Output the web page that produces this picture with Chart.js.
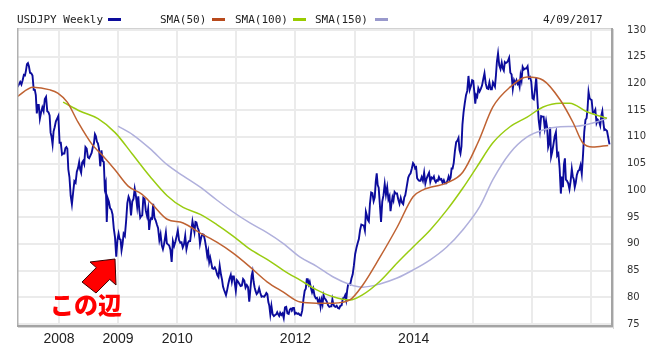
<!DOCTYPE html>
<html><head><meta charset="utf-8">
<script src="https://cdn.jsdelivr.net/npm/chart.js@4.4.1/dist/chart.umd.min.js"></script>
<style>
html,body{margin:0;padding:0;background:#fff;}
#wrap{position:relative;width:655px;height:354px;overflow:hidden;background:#fff;}
canvas{position:absolute;left:0;top:0;}
.lg{position:absolute;top:14px;font:11px/11px "DejaVu Sans Mono",monospace;color:#222;white-space:pre;}
.mk{position:absolute;top:18px;width:13px;height:3px;}
#note{position:absolute;left:50px;top:292px;font-family:"Noto Sans CJK JP";font-weight:900;font-size:24px;line-height:24px;color:#ff0000;white-space:nowrap;}
svg{position:absolute;left:0;top:0;}
</style></head><body>
<div id="wrap">
<canvas id="c" width="655" height="354"></canvas>
<div class="lg" style="left:17px">USDJPY Weekly</div>
<div class="mk" style="left:108px;background:#0c0c9c"></div>
<div class="lg" style="left:160px">SMA(50)</div>
<div class="mk" style="left:212px;background:#b84a1c"></div>
<div class="lg" style="left:235px">SMA(100)</div>
<div class="mk" style="left:293px;background:#99cc00"></div>
<div class="lg" style="left:315px">SMA(150)</div>
<div class="mk" style="left:375px;background:#9999cc"></div>
<div class="lg" style="left:543px">4/09/2017</div>
<svg width="655" height="354"><polygon points="115,259 90,262 96.3,267.6 82,282 96,293 109.7,279.4 116,285" fill="#ff0000" stroke="#3a0000" stroke-width="1"/></svg>
<div id="note">この辺</div>
</div>
<script>
// Weekly closes, one inner list per month, starting April 2007
const priceStart = {year: 2007, month: 4};
const priceWeekly = [
  [118.9, 119.6],
  [120.3, 119.8, 120.6, 121.6],
  [121.5, 122.4, 123.6, 123.8, 123.2],
  [122.0, 121.9, 121.5, 118.8],
  [118.8, 117.8, 114.4, 116.0, 116.0],
  [113.4, 114.6, 115.5, 114.8],
  [117.1, 117.5, 114.8, 114.6],
  [114.0, 110.8, 110.0, 108.6, 111.0],
  [111.8, 112.9, 113.4, 113.9],
  [108.9, 108.9, 106.7, 106.9],
  [106.9, 107.9, 108.1, 107.8, 103.9],
  [102.5, 99.0, 97.4, 99.6],
  [101.7, 101.4, 103.5, 104.2],
  [105.3, 103.9, 103.3, 105.2, 105.5],
  [104.9, 108.1, 107.8, 106.2],
  [106.0, 106.5, 107.0, 108.1],
  [108.8, 110.5, 110.1, 109.1, 108.8],
  [107.8, 104.5, 107.5, 105.5],
  [105.3, 100.5, 101.3, 94.1, 98.5],
  [97.9, 96.7, 96.4, 95.5],
  [92.9, 91.2, 87.6, 90.8],
  [91.9, 90.9, 90.8, 88.8, 89.9],
  [91.9, 91.5, 94.2, 97.6],
  [98.8, 98.2, 95.3, 97.9],
  [98.4, 100.3, 98.9, 96.9],
  [98.9, 96.4, 94.9, 95.2, 95.3],
  [98.6, 98.4, 96.2, 95.2],
  [96.5, 92.6, 94.2, 94.8, 94.7],
  [97.5, 94.9, 94.4, 93.6],
  [92.9, 90.7, 91.8, 89.7],
  [89.0, 89.8, 90.9, 92.1, 90.1],
  [89.9, 89.7, 88.9, 86.6],
  [90.5, 89.6, 90.4, 91.4],
  [92.5, 90.7, 90.2, 90.3],
  [89.3, 89.9, 91.5, 89.0],
  [90.1, 90.5, 90.5, 92.5],
  [94.2, 93.2, 92.2, 94.1, 94.0],
  [93.1, 92.5, 90.0, 91.2],
  [91.8, 91.7, 90.7, 89.3],
  [87.7, 88.6, 86.6, 87.4, 86.5],
  [85.4, 85.3, 85.6, 85.1],
  [84.2, 83.8, 85.9, 84.3],
  [83.3, 82.0, 81.4, 81.4, 80.4],
  [81.3, 82.5, 83.5, 84.2],
  [82.9, 83.9, 83.9, 82.6, 81.2],
  [83.2, 82.9, 82.5, 82.1],
  [82.2, 83.4, 83.1, 81.8],
  [82.3, 81.9, 79.2, 81.7],
  [84.0, 84.8, 83.0, 81.9, 81.2],
  [80.6, 80.9, 81.7, 80.8],
  [80.1, 80.2, 80.1, 80.4],
  [80.8, 80.6, 79.1, 78.4, 76.8],
  [78.4, 76.8, 76.5, 76.7],
  [76.8, 77.2, 76.8, 76.5, 77.1],
  [76.7, 77.0, 76.1, 78.1],
  [78.2, 77.0, 76.9, 77.7],
  [77.9, 77.7, 78.0, 78.0, 76.9],
  [77.1, 76.9, 77.0, 76.7],
  [76.6, 77.5, 79.6, 81.2],
  [81.6, 83.4, 83.4, 82.4, 82.9],
  [81.8, 80.9, 81.6, 80.3],
  [79.8, 79.9, 79.0, 79.6],
  [78.2, 79.5, 78.7, 80.4, 79.8],
  [79.6, 79.2, 78.5, 78.2],
  [78.3, 78.3, 79.6, 78.7, 78.3],
  [78.2, 78.4, 78.0, 77.9],
  [78.4, 78.5, 79.8, 79.9],
  [80.4, 79.5, 81.3, 82.4, 82.5],
  [82.4, 83.5, 84.3, 86.0],
  [88.1, 89.2, 90.1, 90.9],
  [92.6, 93.6, 93.5, 93.4],
  [92.5, 96.0, 95.3, 94.5, 94.2],
  [97.5, 99.6, 99.5, 98.0],
  [98.7, 101.6, 103.2, 101.0, 100.5],
  [97.5, 94.1, 97.9, 99.1],
  [101.2, 99.2, 100.6, 98.3],
  [98.9, 96.1, 97.5, 98.7, 98.1],
  [99.7, 99.4, 99.4, 98.3],
  [97.5, 98.6, 97.7, 97.4],
  [98.7, 99.1, 100.2, 101.3, 102.4],
  [102.9, 103.2, 104.1, 105.1],
  [104.8, 104.1, 104.3, 102.3, 102.0],
  [101.8, 101.8, 102.5, 101.8],
  [103.3, 101.3, 102.2, 102.8],
  [103.3, 101.6, 102.4, 102.2],
  [102.6, 101.8, 101.5, 101.9, 101.8],
  [102.5, 102.0, 102.1, 101.4],
  [101.9, 101.3, 101.3, 101.8],
  [102.6, 102.0, 102.4, 104.1, 104.1],
  [105.1, 107.4, 109.0, 109.3],
  [109.8, 107.6, 106.9, 108.2, 112.3],
  [114.6, 116.3, 117.8, 118.6],
  [121.4, 118.8, 119.5, 120.6],
  [120.5, 118.5, 116.2, 117.8, 117.5],
  [119.1, 118.5, 119.0, 119.6],
  [120.8, 121.9, 120.0, 119.1],
  [119.0, 120.2, 118.9, 118.9],
  [120.2, 119.8, 119.4, 121.5, 124.1],
  [125.6, 123.4, 122.7, 123.9],
  [122.8, 122.4, 124.0, 123.8, 123.9],
  [124.2, 124.8, 122.0, 121.7],
  [119.0, 120.6, 120.0, 120.6],
  [119.9, 120.2, 119.4, 121.5, 120.6],
  [123.1, 122.6, 122.8, 122.8],
  [123.2, 121.0, 121.2, 120.3],
  [117.2, 117.0, 118.8, 121.1],
  [116.9, 113.2, 111.3, 113.9],
  [113.8, 113.8, 111.6, 113.0],
  [111.7, 108.1, 108.8, 111.8, 106.3],
  [107.2, 108.6, 110.1, 110.9],
  [106.5, 106.9, 104.2, 99.4],
  [102.6, 100.6, 104.8, 106.0, 102.0],
  [101.8, 101.3, 100.2, 101.8],
  [104.0, 102.6, 102.1, 100.6, 101.4],
  [102.9, 103.6, 103.8, 104.7],
  [103.1, 106.6, 110.9, 113.2],
  [113.5, 115.3, 118.4, 117.3, 117.0],
  [116.9, 114.5, 114.6, 115.1],
  [112.6, 113.2, 112.9, 112.1],
  [114.0, 114.8, 112.7, 111.3, 111.4],
  [111.1, 108.6]
];

const sma50Years = [2007.29, 2007.56, 2007.85, 2007.98, 2008.14, 2008.32, 2008.56, 2008.73, 2008.95, 2009.17, 2009.40, 2009.57, 2009.83, 2010.10, 2010.39, 2010.67, 2010.94, 2011.23, 2011.52, 2011.79, 2012.08, 2012.36, 2012.64, 2012.92, 2013.14, 2013.43, 2013.72, 2013.99, 2014.16, 2014.56, 2014.83, 2015.09, 2015.34, 2015.63, 2015.92, 2016.19, 2016.48, 2016.70, 2016.86, 2017.03, 2017.29];
const sma50Values = [117.5, 119.3, 118.8, 118.2, 116.5, 112.8, 108.6, 106.6, 103.8, 100.8, 99.3, 97.5, 94.6, 93.9, 92.0, 90.3, 88.3, 85.7, 82.9, 81.0, 79.1, 78.9, 78.9, 79.5, 82.3, 87.5, 93.1, 98.8, 100.1, 101.4, 103.4, 109.0, 115.6, 119.3, 121.2, 120.6, 116.9, 112.6, 108.9, 108.1, 108.4];

const sma100Years = [2008.07, 2008.36, 2008.66, 2008.95, 2009.24, 2009.54, 2009.83, 2010.10, 2010.39, 2010.67, 2010.94, 2011.23, 2011.52, 2011.79, 2012.08, 2012.36, 2012.64, 2012.92, 2013.14, 2013.43, 2013.72, 2013.99, 2014.28, 2014.56, 2014.83, 2015.07, 2015.34, 2015.63, 2015.92, 2016.19, 2016.48, 2016.64, 2016.93, 2017.27];
const sma100Values = [116.5, 114.8, 113.4, 110.8, 106.8, 102.6, 99.0, 96.8, 95.5, 93.6, 91.5, 89.0, 87.1, 85.1, 83.2, 81.4, 80.1, 79.5, 80.5, 83.0, 86.4, 89.4, 92.6, 96.3, 100.4, 104.4, 108.9, 111.9, 113.7, 115.6, 116.3, 116.3, 114.7, 113.5];

const sma150Years = [2009.00, 2009.25, 2009.54, 2009.83, 2010.10, 2010.39, 2010.67, 2010.94, 2011.23, 2011.52, 2011.79, 2012.08, 2012.36, 2012.64, 2012.92, 2013.14, 2013.43, 2013.72, 2013.99, 2014.28, 2014.56, 2014.83, 2015.12, 2015.34, 2015.63, 2015.92, 2016.19, 2016.48, 2016.76, 2017.03, 2017.27];
const sma150Values = [112.0, 110.4, 107.8, 104.8, 102.7, 100.6, 98.2, 96.0, 93.9, 92.1, 90.1, 87.5, 85.8, 83.8, 82.4, 81.9, 82.5, 83.6, 85.1, 87.0, 89.4, 92.6, 97.0, 102.0, 107.0, 110.0, 111.3, 111.9, 112.0, 112.6, 113.5];

const xTickYears = [2008, 2009, 2010, 2011, 2012, 2013, 2014, 2015, 2016, 2017];
const xLabelYears = [2008, 2009, 2010, 2012, 2014];
const yTicks = [75, 80, 85, 90, 95, 100, 105, 110, 115, 120, 125, 130];

const pricePoints = [];
priceWeekly.forEach((wk, m) => {
  const mi = priceStart.month - 1 + m;
  wk.forEach((v, k) => pricePoints.push({x: priceStart.year + (mi + (k + 0.5) / wk.length) / 12, y: v}));
});
const toPts = (xs, ys) => xs.map((x, i) => ({x: x, y: ys[i]}));

const frame = {
  id: 'frame',
  afterDatasetsDraw(chart) {
    const a = chart.chartArea, c = chart.ctx;
    c.save();
    c.fillStyle = '#d2d2d2';
    c.fillRect(a.left, a.top, a.right - a.left, 1);
    c.fillStyle = '#b0b0b0';
    c.fillRect(a.left, a.top, 1.5, a.bottom - a.top);
    c.fillStyle = '#a4a4a4';
    c.fillRect(a.right - 1, a.top, 2, a.bottom - a.top + 2);
    c.fillRect(a.left, a.bottom - 1, a.right - a.left + 1, 2);
    c.fillStyle = '#d6d6d6';
    c.fillRect(a.right + 1, a.top + 1, 1, a.bottom - a.top + 2);
    c.fillRect(a.left + 1, a.bottom + 1, a.right - a.left + 1, 1);
    c.restore();
  }
};

new Chart(document.getElementById('c'), {
  type: 'line',
  data: {
    datasets: [
      {label: 'SMA(50)', data: toPts(sma50Years, sma50Values), borderColor: '#bf6232', borderWidth: 1.5, pointRadius: 0, cubicInterpolationMode: 'monotone', fill: false},
      {label: 'SMA(100)', data: toPts(sma100Years, sma100Values), borderColor: '#99cc11', borderWidth: 1.5, pointRadius: 0, cubicInterpolationMode: 'monotone', fill: false},
      {label: 'SMA(150)', data: toPts(sma150Years, sma150Values), borderColor: '#b0b0dc', borderWidth: 1.5, pointRadius: 0, cubicInterpolationMode: 'monotone', fill: false},
      {label: 'USDJPY Weekly', data: pricePoints, borderColor: '#0c0c9c', borderWidth: 1.9, pointRadius: 0, tension: 0, fill: false}
    ]
  },
  options: {
    responsive: false,
    animation: false,
    layout: {padding: {left: 17, top: 28, right: 0, bottom: 0}},
    plugins: {legend: {display: false}, tooltip: {enabled: false}},
    scales: {
      x: {
        type: 'linear', min: 2007.29, max: 2017.355,
        afterBuildTicks: s => { s.ticks = xTickYears.map(v => ({value: v})); },
        afterFit: s => { s.height = 28; },
        ticks: {autoSkip: false, maxRotation: 0, padding: 5, color: '#222',
          font: {family: 'Liberation Sans, Arial', size: 14},
          callback: v => xLabelYears.includes(v) ? String(v) : ''},
        grid: {color: '#ebebeb', lineWidth: 2, drawTicks: false},
        border: {display: false}
      },
      y: {
        position: 'right', min: 74.63, max: 130.37,
        afterBuildTicks: s => { s.ticks = yTicks.map(v => ({value: v})); },
        afterFit: s => { s.width = 43; },
        ticks: {padding: 15, color: '#333', font: {family: 'DejaVu Sans', size: 10}, callback: v => String(v)},
        grid: {color: '#ebebeb', lineWidth: 2, drawTicks: false},
        border: {display: false}
      }
    }
  },
  plugins: [frame]
});
</script>
</body></html>
